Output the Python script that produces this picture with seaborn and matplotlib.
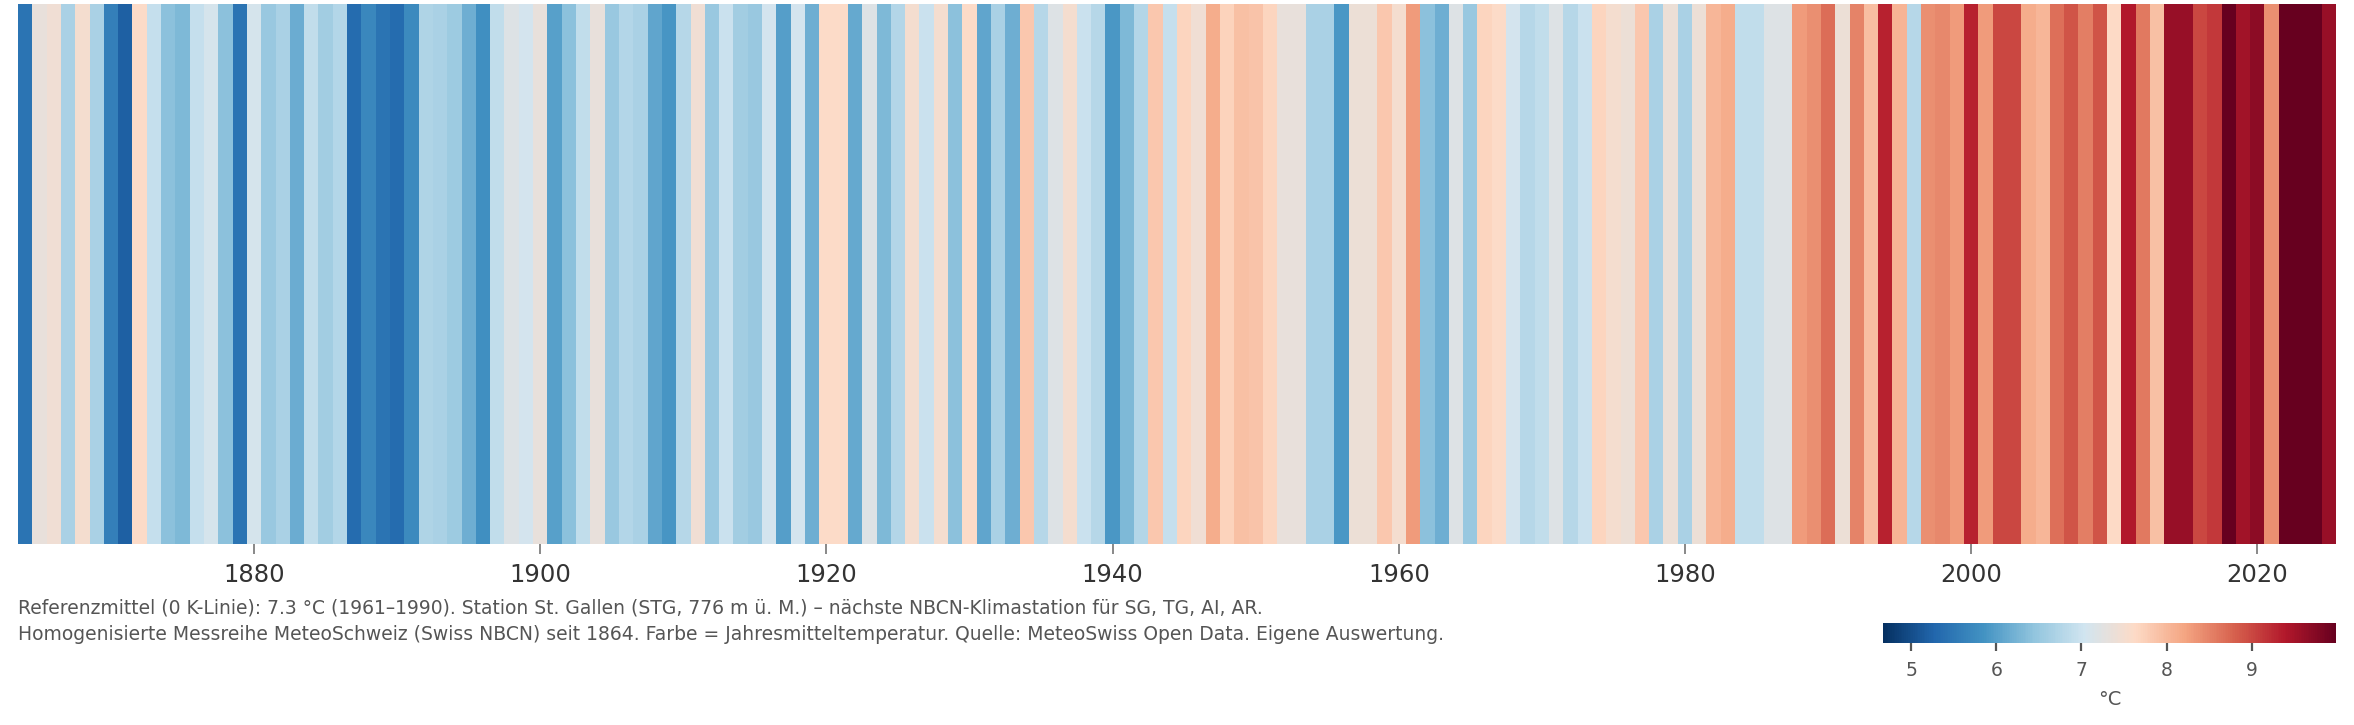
import numpy as np
import matplotlib
matplotlib.use("Agg")
import matplotlib.pyplot as plt
import seaborn as sns

# Jahresmitteltemperatur St. Gallen (°C), 1864-2025
years = list(range(1864, 2026))
temps = [
    5.45, 7.33, 7.45, 6.68, 7.50, 6.68,                          # 1864-1869
    5.59, 5.20, 7.62, 6.92, 6.40, 6.30, 6.92, 7.10, 6.40, 5.45,  # 1870s
    7.10, 6.50, 6.68, 6.15, 6.88, 6.60, 6.75, 5.35, 5.70, 5.45,  # 1880s
    5.35, 5.75, 6.72, 6.68, 6.55, 6.18, 5.80, 6.88, 7.20, 7.08,  # 1890s
    7.33, 6.00, 6.40, 6.88, 7.33, 6.50, 6.75, 6.68, 6.08, 5.88,  # 1900s
    6.78, 7.45, 6.50, 6.97, 6.60, 6.50, 7.08, 5.98, 7.08, 6.18,  # 1910s
    7.62, 7.62, 6.12, 7.20, 6.30, 6.75, 7.50, 6.97, 7.50, 6.40,  # 1920s
    7.62, 6.08, 6.68, 6.18, 7.83, 6.78, 7.20, 7.50, 6.97, 6.78,  # 1930s
    5.90, 6.30, 6.75, 7.83, 6.92, 7.70, 7.45, 8.12, 7.72, 7.93,  # 1940s
    7.88, 7.70, 7.33, 7.33, 6.68, 6.68, 5.90, 7.40, 7.40, 7.83,  # 1950s
    7.50, 8.30, 6.40, 6.18, 7.20, 6.50, 7.70, 7.62, 7.08, 6.78,  # 1960s
    6.88, 7.20, 6.78, 6.97, 7.70, 7.50, 7.40, 7.83, 6.68, 7.40,  # 1970s
    6.68, 7.40, 8.02, 8.12, 6.88, 6.88, 7.20, 7.20, 8.30, 8.41,  # 1980s
    8.69, 7.40, 8.51, 7.95, 9.32, 8.05, 6.78, 8.41, 8.46, 8.30,  # 1990s
    9.32, 8.30, 9.00, 9.00, 8.12, 8.02, 8.68, 8.90, 8.55, 8.90,  # 2000s
    7.63, 9.40, 8.59, 7.93, 9.60, 9.60, 9.00, 9.13, 9.97, 9.52,  # 2010s
    9.68, 8.41, 9.99, 9.97, 9.97, 9.60,                          # 2020-2025
]
tick_years = [1880, 1900, 1920, 1940, 1960, 1980, 2000, 2020]
cbar_ticks = [5, 6, 7, 8, 9]
ref_mean = 7.33

caption1 = ("Referenzmittel (0 K-Linie): 7.3 °C (1961–1990). Station St. Gallen "
            "(STG, 776 m ü. M.) – nächste NBCN-Klimastation für SG, TG, AI, AR.")
caption2 = ("Homogenisierte Messreihe MeteoSchweiz (Swiss NBCN) seit 1864. "
            "Farbe = Jahresmitteltemperatur. Quelle: MeteoSwiss Open Data. Eigene Auswertung.")

assert len(temps) == len(years)

# symmetric colour range around the reference mean
span = max(abs(t - ref_mean) for t in temps)
vmin, vmax = ref_mean - span, ref_mean + span

# RdBu without the white centre
stripe_colors = ["#053061", "#2166ac", "#4393c3", "#92c5de", "#d1e5f0",
                 "#fddbc7", "#f4a582", "#d6604d", "#b2182b", "#67001f"]
cmap = sns.blend_palette(stripe_colors, as_cmap=True)

sns.set_style("white")
plt.rcParams["font.family"] = ["DejaVu Sans"]

W, H = 2354, 725
fig = plt.figure(figsize=(W / 100, H / 100), dpi=100)
ax = fig.add_axes([18 / W, 1 - 544 / H, 2318 / W, 540 / H])
cax = fig.add_axes([1883 / W, 1 - 643 / H, 453 / W, 20 / H])

sns.heatmap(np.array([temps]), ax=ax, cmap=cmap, vmin=vmin, vmax=vmax,
            cbar_ax=cax, cbar_kws={"orientation": "horizontal"},
            xticklabels=False, yticklabels=False, linewidths=0)

ax.set_xticks([years.index(y) + 0.5 for y in tick_years])
ax.set_xticklabels([str(y) for y in tick_years], rotation=0)
ax.tick_params(axis="x", bottom=True, length=7.5, width=1.4, color="#888888",
               labelsize=17.5, labelcolor="#333333", pad=6)
ax.set_yticks([])
for s in ax.spines.values():
    s.set_visible(False)

cbar = ax.collections[0].colorbar
cbar.outline.set_visible(False)
cbar.set_ticks(cbar_ticks)
cax.tick_params(axis="x", bottom=True, length=6, width=1.6, color="#555555",
                labelsize=13.5, labelcolor="#555555", pad=7)
cax.set_xlabel("°C", fontsize=14, color="#555555", labelpad=7)

fig.text(18 / W, 1 - 613 / H, caption1, fontsize=13.5, color="#555555", va="baseline")
fig.text(18 / W, 1 - 640 / H, caption2, fontsize=13.5, color="#555555", va="baseline")

fig.savefig("out.png", dpi=100)
